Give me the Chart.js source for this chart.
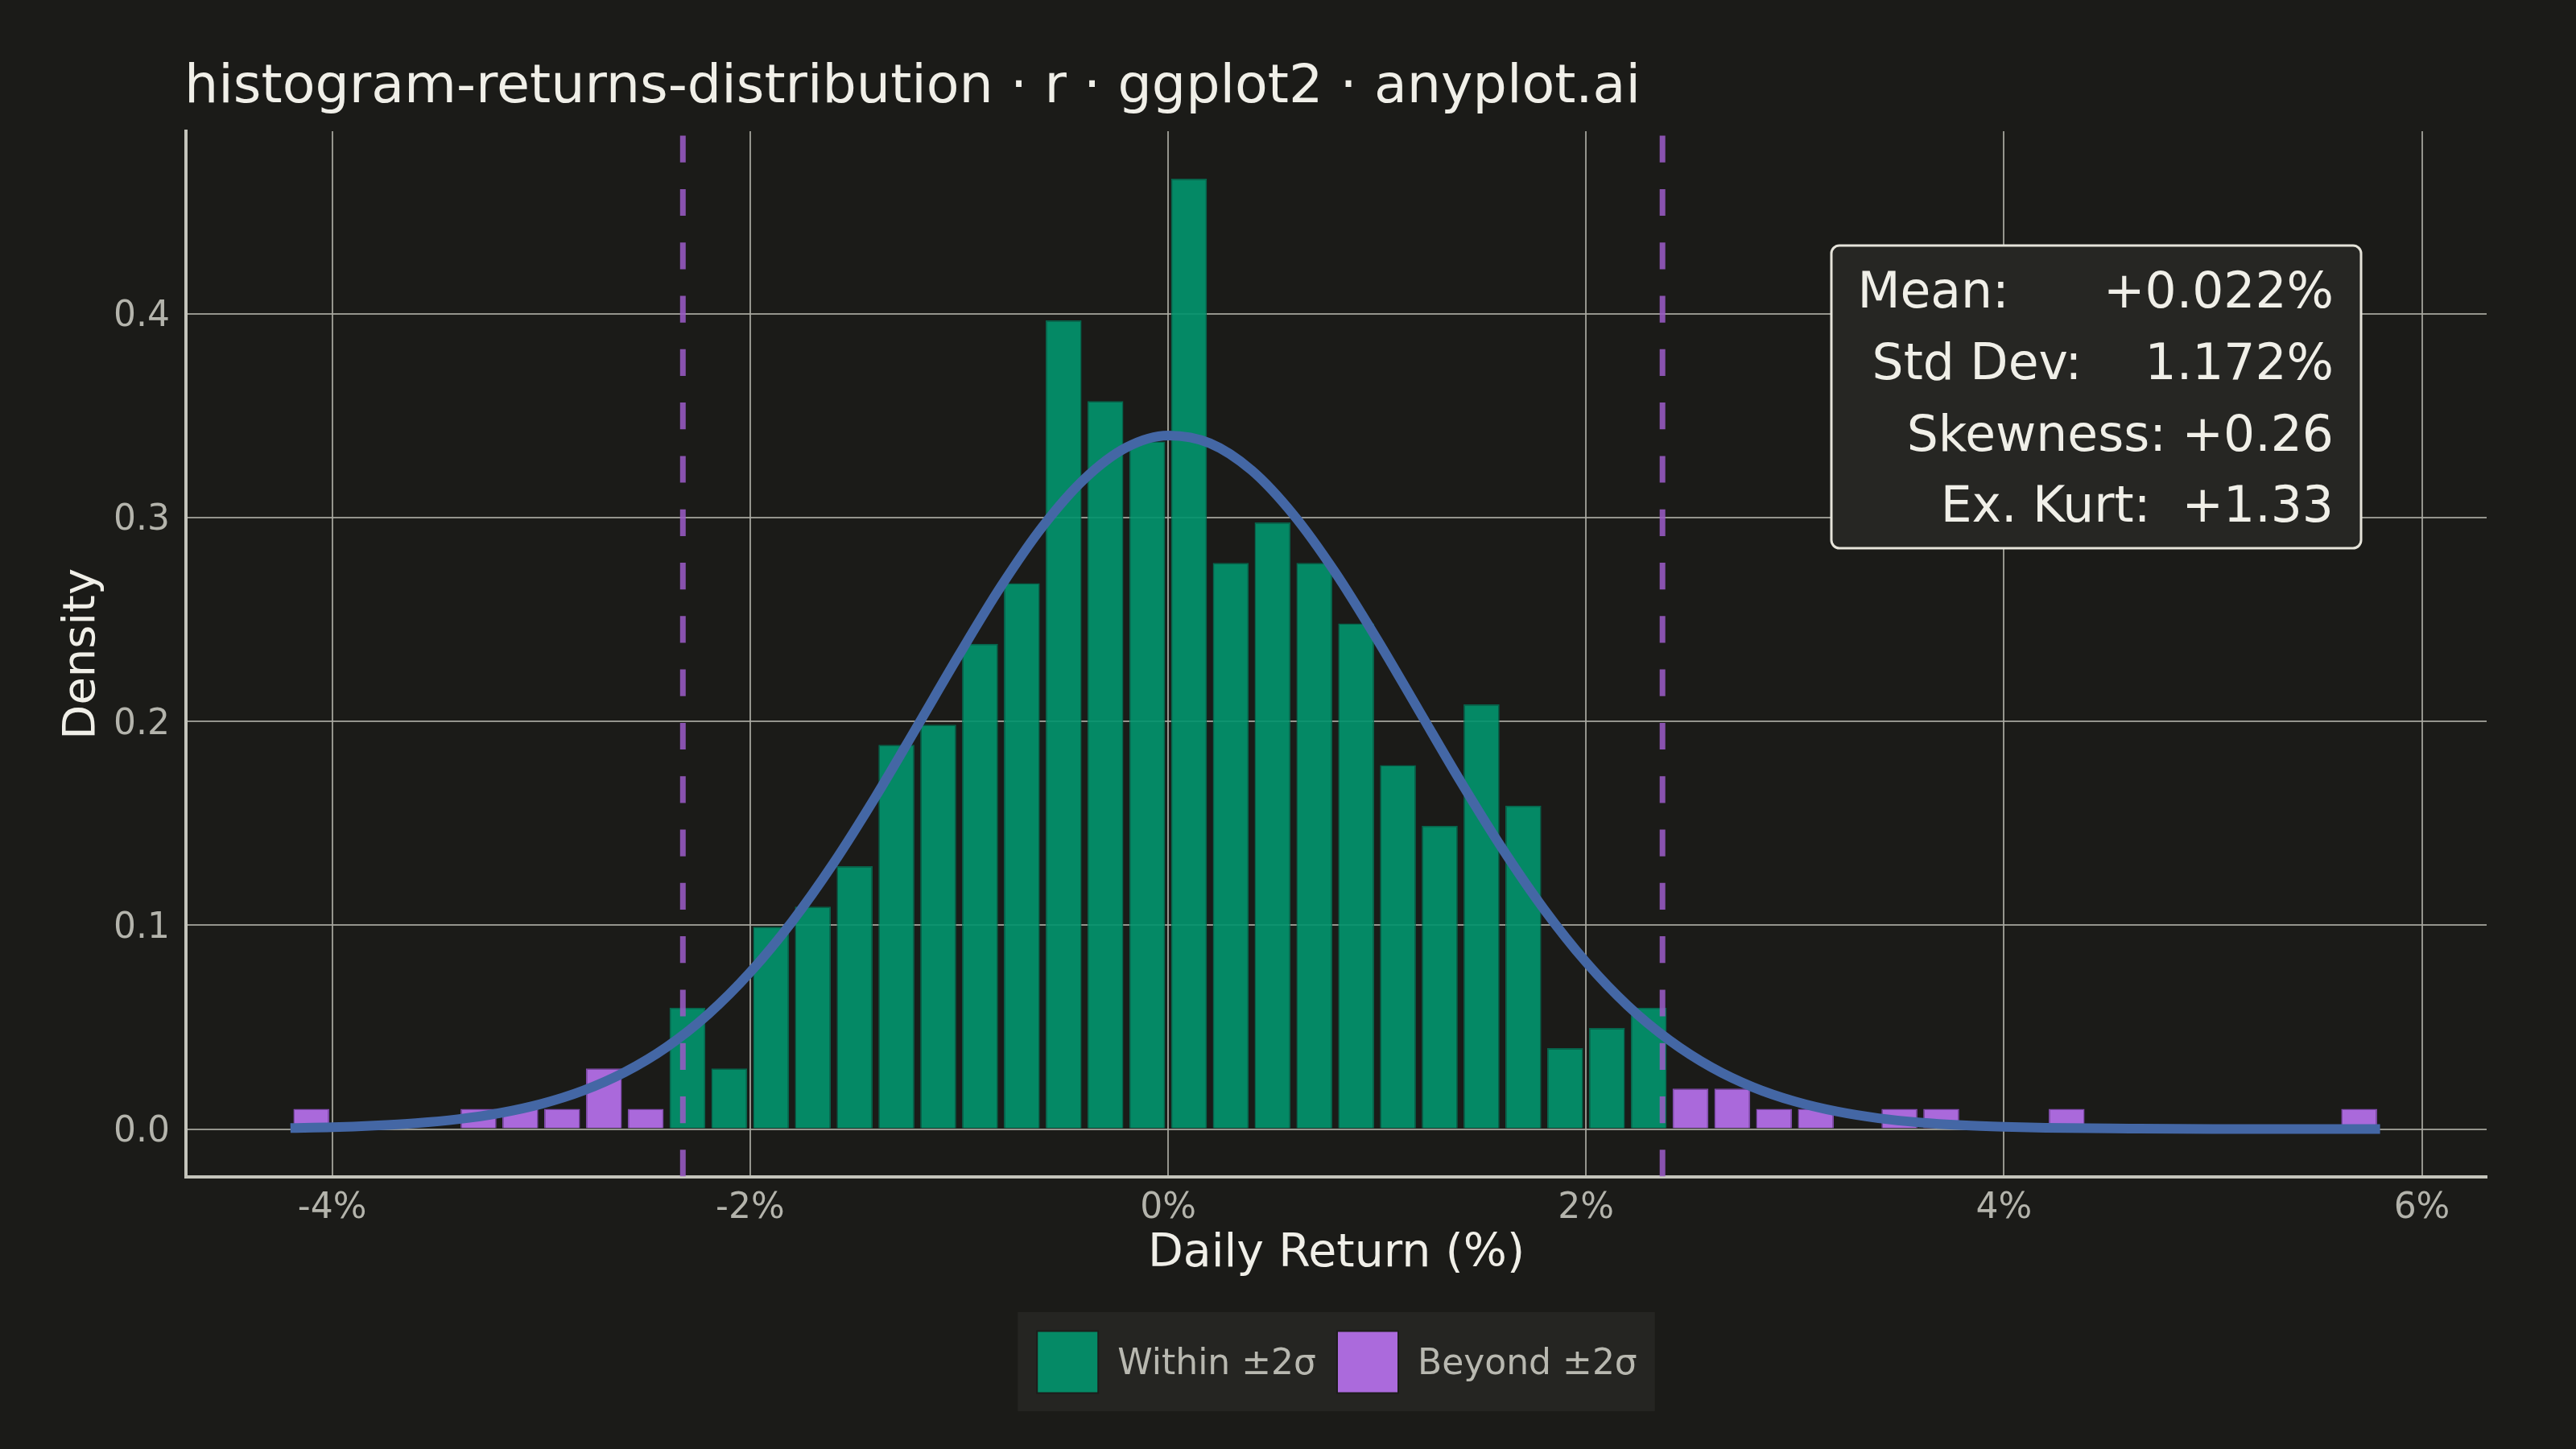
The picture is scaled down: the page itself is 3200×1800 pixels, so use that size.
<!DOCTYPE html>
<html>
<head>
<meta charset="utf-8">
<title>histogram-returns-distribution</title>
<script src="https://cdn.jsdelivr.net/npm/chart.js@4.4.1/dist/chart.umd.min.js"></script>
<style>
  html, body { margin: 0; padding: 0; background: #1b1b18; }
  #wrap { width: 3200px; height: 1800px; }
</style>
</head>
<body>
<div id="wrap"><canvas id="returnsChart" width="3200" height="1800"></canvas></div>
<script>
// Histogram: centre of each 0.2% bin and number of trading days in it
const binCenters = [-4.1, -3.9, -3.7, -3.5, -3.3, -3.1, -2.9, -2.7, -2.5, -2.3, -2.1,
    -1.9, -1.7, -1.5, -1.3, -1.1, -0.9, -0.7, -0.5, -0.3, -0.1,
    0.1, 0.3, 0.5, 0.7, 0.9, 1.1, 1.3, 1.5, 1.7, 1.9,
    2.1, 2.3, 2.5, 2.7, 2.9, 3.1, 3.3, 3.5, 3.7, 3.9,
    4.1, 4.3, 4.5, 4.7, 4.9, 5.1, 5.3, 5.5, 5.7];
const binCounts = [1, 0, 0, 0, 1, 1, 1, 3, 1, 6, 3,
    10, 11, 13, 19, 20, 24, 27, 40, 36, 34,
    47, 28, 30, 28, 25, 18, 15, 21, 16, 4,
    5, 6, 2, 2, 1, 1, 0, 1, 1, 0,
    0, 1, 0, 0, 0, 0, 0, 0, 1];
const binWidth = 0.2;

// Fitted normal density
const curveX = [-4.2, -4.0, -3.8, -3.6, -3.4, -3.2, -3.0, -2.8, -2.6, -2.4, -2.2,
    -2.0, -1.8, -1.6, -1.4, -1.2, -1.0, -0.8, -0.6, -0.4, -0.2,
    0.0, 0.2, 0.4, 0.6, 0.8, 1.0, 1.2, 1.4, 1.6, 1.8,
    2.0, 2.2, 2.4, 2.6, 2.8, 3.0, 3.2, 3.4, 3.6, 3.8,
    4.0, 4.2, 4.6, 5.0, 5.4, 5.8];
const curveY = [0.0005, 0.0009, 0.0017, 0.0029, 0.0048, 0.0078, 0.0123, 0.0188, 0.0279, 0.0402, 0.0564,
    0.0769, 0.1017, 0.1306, 0.1630, 0.1977, 0.2327, 0.2662, 0.2957, 0.3190, 0.3344,
    0.3403, 0.3365, 0.3232, 0.3014, 0.2731, 0.2403, 0.2054, 0.1705, 0.1375, 0.1077,
    0.0819, 0.0605, 0.0435, 0.0303, 0.0205, 0.0135, 0.0086, 0.0053, 0.0032, 0.0019,
    0.0011, 0.0006, 0.0002, 0.0000, 0.0000, 0.0000];

// Summary statistics
const meanReturn = 0.022;
const stdDev = 1.172;
const statLines = ['Mean:      +0.022%', 'Std Dev:    1.172%', 'Skewness: +0.26', 'Ex. Kurt:  +1.33'];

// Axes
const xTicks = [-4, -2, 0, 2, 4, 6];
const yTicks = [0, 0.1, 0.2, 0.3, 0.4];
const xRange = [-4.7, 6.31];
const yRange = [-0.0233, 0.4896];

const seriesLabels = ['Within \u00b12\u03c3', 'Beyond \u00b12\u03c3'];
const titleText = 'histogram-returns-distribution \u00b7 r \u00b7 ggplot2 \u00b7 anyplot.ai';

// Colours
const BG = '#1b1b18';
const GREEN = 'rgba(2, 147, 109, 0.92)';
const PURPLE = 'rgba(182, 112, 237, 0.92)';
const CURVE = '#4467a5';
const BAND = 'rgba(152, 90, 196, 0.88)';
const GRID = 'rgba(170, 170, 162, 0.85)';
const AXIS = '#c4c4bb';
const TEXT = '#f0efe8';
const TICK = '#b4b4ac';
const FONT = '"DejaVu Sans", "Liberation Sans", sans-serif';

// Split bins into within / beyond two standard deviations
const lowerBand = meanReturn - 2 * stdDev;
const upperBand = meanReturn + 2 * stdDev;
const totalDays = binCounts.reduce((a, b) => a + b, 0);

const withinBars = [];
const beyondBars = [];
binCenters.forEach(function(c, i) {
    if (binCounts[i] === 0) return;
    const point = { x: c, y: binCounts[i] / (totalDays * binWidth) };
    if (c >= lowerBand && c <= upperBand) {
        withinBars.push(point);
    } else {
        beyondBars.push(point);
    }
});

const curvePoints = curveX.map((x, i) => ({ x: x, y: curveY[i] }));

// Vertical dashed band lines (drawn bottom to top)
function bandLine(xValue) {
    return {
        type: 'line',
        data: [{ x: xValue, y: yRange[0] }, { x: xValue, y: yRange[1] }],
        borderColor: BAND,
        borderWidth: 7,
        borderDash: [33.2, 33.1],
        pointRadius: 0,
        fill: false,
        order: 1
    };
}

// Title, stats box and legend drawn on top of the chart
const decorPlugin = {
    id: 'decor',
    beforeDraw(chart) {
        const ctx = chart.ctx;
        ctx.save();
        ctx.fillStyle = BG;
        ctx.fillRect(0, 0, chart.width, chart.height);
        ctx.restore();
    },
    afterDraw(chart) {
        const ctx = chart.ctx;
        const area = chart.chartArea;
        ctx.save();

        // Title
        ctx.font = '66.7px ' + FONT;
        ctx.fillStyle = TEXT;
        ctx.textAlign = 'left';
        ctx.textBaseline = 'alphabetic';
        ctx.fillText(titleText, 229, 127);

        // Stats box
        ctx.beginPath();
        ctx.roundRect(2275, 305, 658, 376, 10);
        ctx.fillStyle = '#262623';
        ctx.fill();
        ctx.lineWidth = 3;
        ctx.strokeStyle = '#e6e4da';
        ctx.stroke();
        ctx.font = '61.5px ' + FONT;
        ctx.fillStyle = TEXT;
        ctx.textAlign = 'right';
        statLines.forEach(function(line, i) {
            ctx.fillText(line, 2899, 382 + i * 88.8);
        });

        // Legend
        ctx.font = '44px ' + FONT;
        const swatch = 76;
        const colors = [GREEN, PURPLE];
        const widths = seriesLabels.map(t => ctx.measureText(t).width);
        const boxW = 24 + swatch + 24 + widths[0] + 26 + swatch + 24 + widths[1] + 22;
        const boxH = 123;
        const boxX = (area.left + area.right) / 2 - boxW / 2;
        const boxY = 1630;
        ctx.fillStyle = '#252522';
        ctx.fillRect(boxX, boxY, boxW, boxH);
        let x = boxX + 24;
        const midY = boxY + boxH / 2;
        ctx.textAlign = 'left';
        ctx.textBaseline = 'middle';
        seriesLabels.forEach(function(label, i) {
            ctx.fillStyle = colors[i];
            ctx.fillRect(x, midY - swatch / 2, swatch, swatch + 1);
            ctx.lineWidth = 2;
            ctx.strokeStyle = '#1d1d1a';
            ctx.strokeRect(x, midY - swatch / 2, swatch, swatch + 1);
            x += swatch + 24;
            ctx.fillStyle = '#b8b8b0';
            ctx.fillText(label, x, midY + 4);
            x += widths[i] + 26;
        });

        ctx.restore();
    }
};

const ctx = document.getElementById('returnsChart').getContext('2d');
const chart = new Chart(ctx, {
    type: 'bar',
    data: {
        datasets: [
            {
                type: 'line',
                label: 'Normal fit',
                data: curvePoints,
                borderColor: CURVE,
                borderWidth: 12,
                borderCapStyle: 'butt',
                pointRadius: 0,
                cubicInterpolationMode: 'monotone',
                fill: false,
                order: 0
            },
            bandLine(lowerBand),
            bandLine(upperBand),
            {
                label: seriesLabels[0],
                data: withinBars,
                backgroundColor: GREEN,
                borderColor: 'rgba(3, 110, 82, 0.9)',
                borderWidth: 1.5,
                barPercentage: 0.86,
                categoryPercentage: 1.0,
                grouped: false,
                order: 2
            },
            {
                label: seriesLabels[1],
                data: beyondBars,
                backgroundColor: PURPLE,
                borderColor: 'rgba(140, 80, 190, 0.9)',
                borderWidth: 1.5,
                barPercentage: 0.86,
                categoryPercentage: 1.0,
                grouped: false,
                order: 3
            }
        ]
    },
    options: {
        responsive: false,
        devicePixelRatio: 1,
        animation: false,
        events: [],
        layout: {
            padding: { left: 40, right: 111, top: 163, bottom: 207.8 }
        },
        plugins: {
            legend: { display: false },
            title: { display: false },
            tooltip: { enabled: false }
        },
        scales: {
            x: {
                type: 'linear',
                min: xRange[0],
                max: xRange[1],
                offset: false,
                afterBuildTicks: function(scale) {
                    scale.ticks = xTicks.map(v => ({ value: v }));
                },
                afterFit: function(scale) {
                    scale.height = 130.7;
                },
                grid: { color: GRID, lineWidth: 2, drawTicks: false, offset: false },
                border: { display: true, color: AXIS, width: 4 },
                ticks: {
                    color: TICK,
                    font: { family: FONT, size: 44 },
                    padding: 14,
                    maxRotation: 0,
                    autoSkip: false,
                    callback: v => v + '%'
                },
                title: {
                    display: true,
                    text: 'Daily Return (%)',
                    color: TEXT,
                    font: { family: FONT, size: 57 },
                    padding: { top: 0, bottom: 0 }
                }
            },
            y: {
                type: 'linear',
                min: yRange[0],
                max: yRange[1],
                afterBuildTicks: function(scale) {
                    scale.ticks = yTicks.map(v => ({ value: v }));
                },
                afterFit: function(scale) {
                    scale.width = 191;
                },
                grid: { color: GRID, lineWidth: 2, drawTicks: false },
                border: { display: true, color: AXIS, width: 4 },
                ticks: {
                    color: TICK,
                    font: { family: FONT, size: 44 },
                    padding: 20,
                    labelOffset: 4,
                    autoSkip: false,
                    callback: v => v.toFixed(1)
                },
                title: {
                    display: true,
                    text: 'Density',
                    color: TEXT,
                    font: { family: FONT, size: 56 },
                    padding: { top: 29, bottom: 0 }
                }
            }
        }
    },
    plugins: [decorPlugin]
});
</script>
</body>
</html>
